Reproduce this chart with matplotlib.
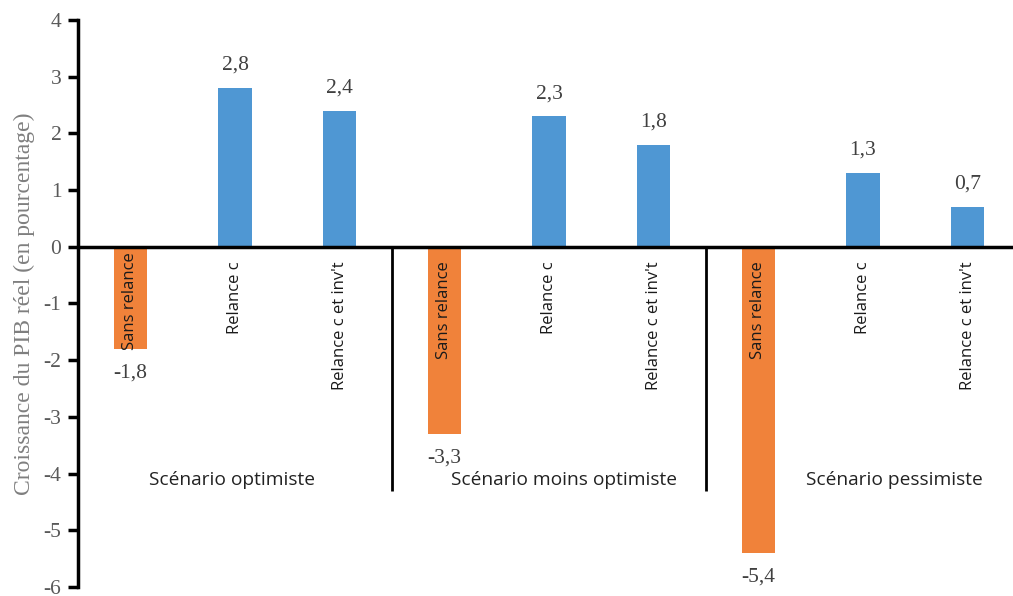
import matplotlib as mpl
mpl.use("Agg")
import matplotlib.pyplot as plt

SCENARIOS = ["Scénario optimiste", "Scénario moins optimiste", "Scénario pessimiste"]
POLICIES = ["Sans relance", "Relance c", "Relance c et inv't"]
VALUES = [
    [-1.8, 2.8, 2.4],
    [-3.3, 2.3, 1.8],
    [-5.4, 1.3, 0.7],
]
VALUE_LABELS = [
    ["-1,8", "2,8", "2,4"],
    ["-3,3", "2,3", "1,8"],
    ["-5,4", "1,3", "0,7"],
]
YTICKS = [-6, -5, -4, -3, -2, -1, 0, 1, 2, 3, 4]

BLUE = "#4F97D3"
ORANGE = "#F0823A"
SERIF = "Liberation Serif"
SANS = "Open Sans"

fig = plt.figure(figsize=(10.13, 5.96), dpi=100)
ax = fig.add_axes((78 / 1013, 9 / 596, 942 / 1013, 567 / 596))

# the group captions are not quite centred in the original
group_shift = [-0.03, 0.14, 0.3]

for g, (vals, labs) in enumerate(zip(VALUES, VALUE_LABELS)):
    for i, (v, lab) in enumerate(zip(vals, labs)):
        x = g * 3 + i
        color = ORANGE if v < 0 else BLUE
        ax.bar(x, v, width=0.32, color=color, zorder=2)
        # value label above positive bars, below negative ones
        off = -0.42 if v < 0 else 0.4
        ax.text(x, v + off, lab, ha="center", va="center",
                family=SERIF, fontsize=15.5, color="#404040")
        top = -0.1 if x == 0 else -0.26
        ax.text(x, top, POLICIES[i], rotation=90, ha="center", va="top",
                family=SANS, fontsize=12, color="#1a1a1a", zorder=3)
    ax.text(g * 3 + 1 + group_shift[g], -4.12, SCENARIOS[g], ha="center", va="center",
            family=SANS, fontsize=13.8, color="#222222")

for xs in (2.5, 5.5):
    ax.plot([xs, xs], [0, -4.3], color="black", lw=2, zorder=3, solid_capstyle="butt")

ax.axhline(0, color="black", lw=2.5, zorder=3)
ax.set_xlim(-0.5, 8.5)
ax.set_ylim(-6, 4)
ax.set_yticks(YTICKS)
ax.set_yticklabels([str(t) for t in YTICKS], family=SERIF, fontsize=15.5, color="#595959")
ax.set_xticks([])
for side in ("top", "right", "bottom"):
    ax.spines[side].set_visible(False)
ax.spines["left"].set_linewidth(2.5)
ax.tick_params(axis="y", length=7, width=2.5, pad=5)
ax.set_ylabel("Croissance du PIB réel (en pourcentage)", family=SERIF,
              fontsize=17, color="#7f7f7f", labelpad=6)

fig.savefig("out.png", dpi=100)
